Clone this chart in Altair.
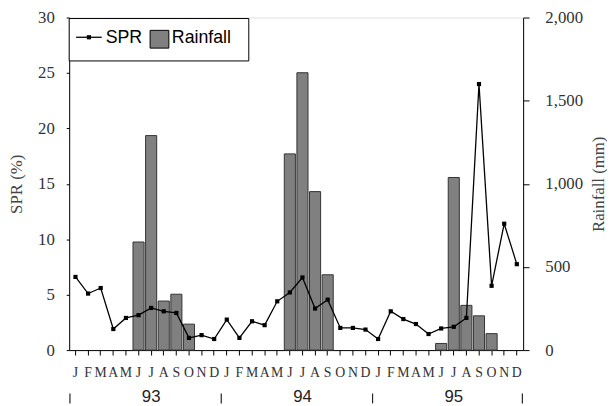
import altair as alt
import pandas as pd

# ---- data ----
months = ["J", "F", "M", "A", "M", "J", "J", "A", "S", "O", "N", "D"]
years = ["93", "94", "95"]

spr = [6.6, 5.1, 5.6, 1.9, 2.9, 3.15, 3.8, 3.5, 3.35, 1.1, 1.35, 1.0,
       2.75, 1.1, 2.6, 2.25, 4.4, 5.2, 6.55, 3.75, 4.55, 2.0, 2.0, 1.85,
       1.0, 3.5, 2.8, 2.35, 1.45, 1.95, 2.1, 2.9, 24.0, 5.8, 11.4, 7.75]

rainfall = [None, None, None, None, None, 650, 1290, 295, 336, 156, None, None,
            None, None, None, None, None, 1180, 1668, 953, 453, None, None, None,
            None, None, None, None, None, 40, 1038, 269, 206, 99, None, None]

W, H = 460, 337

idx = list(range(len(spr)))
df_line = pd.DataFrame({"idx": idx, "SPR": spr})
df_bar = pd.DataFrame({"idx": idx, "Rainfall": rainfall}).dropna()
df_year = pd.DataFrame({"idx": [6, 18, 30], "year": years})
df_sep = pd.DataFrame({"idx": [0, 12, 24]})
df_sep_end = pd.DataFrame({"idx": [35]})
one = pd.DataFrame({"k": [0]})

month_js = "[" + ",".join("'%s'" % m for m in months) + "]"

xscale = alt.Scale(paddingInner=0.12, paddingOuter=0.06)
xaxis = alt.Axis(
    title=None, labelExpr=f"{month_js}[datum.value % 12]", labelAngle=0,
    labelFont="Liberation Serif", labelFontSize=14, labelColor="#333",
    ticks=True, tickSize=5, tickColor="black", domainColor="black", labelPadding=11,
    labelBaseline="top",
)
X = alt.X("idx:O", scale=xscale, axis=xaxis)

bars = alt.Chart(df_bar).mark_bar(
    color="#808080", stroke="#333", strokeWidth=1
).encode(
    x=X,
    y=alt.Y("Rainfall:Q", scale=alt.Scale(domain=[0, 2000]),
            axis=alt.Axis(orient="right", values=[0, 500, 1000, 1500, 2000], format=",.0f",
                          title="Rainfall (mm)", titleFont="Liberation Serif", titleAngle=270,
                          titleFontSize=17, titleFontWeight="normal", titleColor="#444",
                          labelFont="Liberation Serif", labelFontSize=17, labelColor="#333",
                          tickSize=6, tickColor="black", domainColor="black",
                          labelPadding=16, titlePadding=25, grid=False)),
)

line = alt.Chart(df_line).mark_line(
    color="black", strokeWidth=1.3,
    point=alt.OverlayMarkDef(shape="square", size=18, color="black", filled=True),
).encode(
    x=X,
    y=alt.Y("SPR:Q", scale=alt.Scale(domain=[0, 30]),
            axis=alt.Axis(orient="left", values=[0, 5, 10, 15, 20, 25, 30],
                          title="SPR (%)", titleFont="Liberation Serif",
                          titleFontSize=17, titleFontWeight="normal", titleColor="#444",
                          labelFont="Liberation Serif", labelFontSize=17, labelColor="#333",
                          tickSize=3, tickColor="black", domainColor="black",
                          labelPadding=12, titlePadding=12, grid=False)),
)

year_text = alt.Chart(df_year).mark_text(
    font="Liberation Sans", fontSize=17, color="#222", baseline="middle", align="center"
).encode(x=X, y=alt.value(H + 48), text="year:N")

sep = alt.Chart(df_sep).mark_rule(color="#222", strokeWidth=1.2).encode(
    x=alt.X("idx:O", scale=xscale, axis=xaxis, bandPosition=0),
    y=alt.value(H + 44), y2=alt.value(H + 54))
sep_end = alt.Chart(df_sep_end).mark_rule(color="#222", strokeWidth=1.2).encode(
    x=alt.X("idx:O", scale=xscale, axis=xaxis, bandPosition=1),
    y=alt.value(H + 44), y2=alt.value(H + 54))

# ---- legend (decoration) ----
leg_box = alt.Chart(one).mark_rect(fill="white", stroke="black", strokeWidth=1).encode(
    x=alt.value(0), x2=alt.value(182), y=alt.value(1), y2=alt.value(44))
leg_line = alt.Chart(one).mark_rule(color="black", strokeWidth=1.3).encode(
    x=alt.value(7), x2=alt.value(33), y=alt.value(20))
leg_pt = alt.Chart(one).mark_point(shape="square", size=18, filled=True, color="black", opacity=1).encode(
    x=alt.value(20), y=alt.value(20))
leg_t1 = alt.Chart(one).mark_text(font="Liberation Sans", fontSize=18, align="left",
                                  baseline="middle", color="black").encode(
    x=alt.value(37), y=alt.value(21), text=alt.value("SPR"))
leg_sq = alt.Chart(one).mark_rect(fill="#808080", stroke="black", strokeWidth=1).encode(
    x=alt.value(82), x2=alt.value(101), y=alt.value(13), y2=alt.value(31))
leg_t2 = alt.Chart(one).mark_text(font="Liberation Sans", fontSize=18, align="left",
                                  baseline="middle", color="black").encode(
    x=alt.value(104), y=alt.value(21), text=alt.value("Rainfall"))

chart = alt.layer(
    bars, line, year_text, sep, sep_end,
    leg_box, leg_line, leg_pt, leg_t1, leg_sq, leg_t2,
).resolve_scale(y="independent").properties(
    width=W, height=H,
    autosize=alt.AutoSizeParams(type="none"),
    padding={"left": 62, "top": 7, "right": 85, "bottom": 54},
).configure_view(stroke=None).configure(background="white")

chart.save("out.html", embed_options={"renderer": "svg", "actions": False})
